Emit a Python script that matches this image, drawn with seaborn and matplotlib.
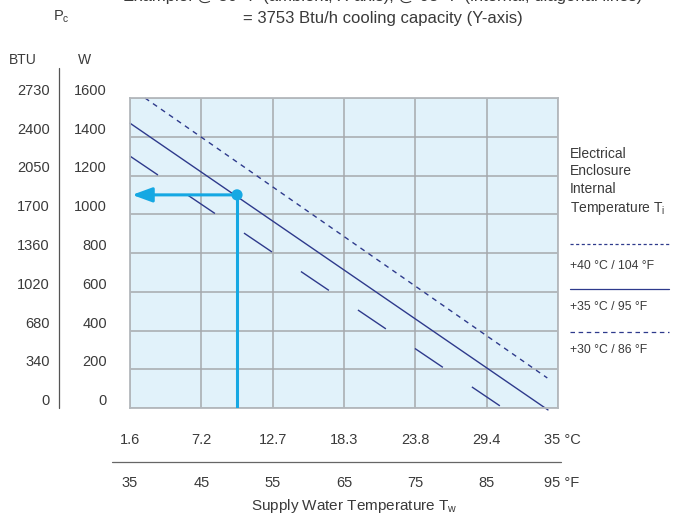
import matplotlib
matplotlib.use("Agg")
import matplotlib.pyplot as plt
import matplotlib.transforms as mtransforms
from matplotlib.lines import Line2D
import seaborn as sns

# supply water temperature (°F) / cooling power (W)
water_f_40 = [37.1, 93.5]
power_40 = [1600, 155]
water_f_35 = [35.0, 93.6]
power_35 = [1470, -10]
water_f_30 = [35.0, 86.9]
power_30 = [1300, 10]

example_f = 50
example_w = 1100

f_ticks = [35, 45, 55, 65, 75, 85, 95]
c_labels = ["1.6", "7.2", "12.7", "18.3", "23.8", "29.4", "35 °C"]
f_labels = ["35", "45", "55", "65", "75", "85", "95 °F"]
w_ticks = [0, 200, 400, 600, 800, 1000, 1200, 1400, 1600]
btu_labels = ["0", "340", "680", "1020", "1360", "1700", "2050", "2400", "2730"]

legend_labels = ["+40 °C / 104 °F", "+35 °C / 95 °F", "+30 °C / 86 °F"]

sns.set_theme(style="white")
plt.rcParams["font.family"] = ["Liberation Sans", "DejaVu Sans"]
plt.rcParams["mathtext.fontset"] = "custom"
plt.rcParams["mathtext.rm"] = "Liberation Sans"

navy = "#2e3a8c"
cyan = "#15a8e3"
grid_c = "#a5a9ad"
txt = "#3a3a3a"

W, H = 691, 517
fig = plt.figure(figsize=(W / 100, H / 100), dpi=100)


def fx(x):
    return x / W


def fy(y):
    return 1 - y / H


ax = fig.add_axes([fx(130), fy(408), (558 - 130) / W, (408 - 98) / H])
ax.set_facecolor("#e1f2fa")
ax.set_xlim(35, 95)
ax.set_ylim(0, 1600)
ax.set_xticks(f_ticks)
ax.set_yticks(w_ticks)
ax.set_xticklabels([])
ax.set_yticklabels([])
ax.tick_params(length=0)
ax.grid(True, color=grid_c, lw=1.1)
for s in ax.spines.values():
    s.set_color("#b3b8bc")
    s.set_linewidth(1.3)

sns.lineplot(x=water_f_40, y=power_40, ax=ax, color=navy, lw=1.0,
             linestyle=(0, (3.6, 3.4)), clip_on=False)
sns.lineplot(x=water_f_35, y=power_35, ax=ax, color=navy, lw=1.0, clip_on=False)
sns.lineplot(x=water_f_30, y=power_30, ax=ax, color=navy, lw=1.0,
             linestyle=(0, (24.3, 25.2)), clip_on=False)

# example reading
ax.plot([example_f, example_f], [example_w, 0], color=cyan, lw=2.2, zorder=4)
ax.annotate("", xy=(35.3, example_w), xytext=(example_f, example_w),
            arrowprops=dict(arrowstyle="-|>,head_length=0.6,head_width=0.22",
                            color=cyan, lw=2.2, mutation_scale=20,
                            shrinkA=0, shrinkB=0), zorder=4)
sns.scatterplot(x=[example_f], y=[example_w], ax=ax, color=cyan, s=65,
                edgecolor="none", zorder=5)

# left scales
up = mtransforms.ScaledTranslation(0, 7 / 100, fig.dpi_scale_trans)
tr = mtransforms.blended_transform_factory(fig.transFigure, ax.transData) + up
for w, b in zip(w_ticks, btu_labels):
    fig.text(fx(50), w, b, transform=tr, ha="right", va="center",
             fontsize=10.5, color=txt)
    fig.text(fx(107), w, str(w), transform=tr, ha="right", va="center",
             fontsize=10.5, color=txt)
fig.add_artist(Line2D([fx(59), fx(59)], [fy(68), fy(408)], color="#555555", lw=0.9))
fig.text(fx(23), fy(60), "BTU", ha="center", va="center", fontsize=10, color=txt)
fig.text(fx(85), fy(60), "W", ha="center", va="center", fontsize=10, color=txt)
fig.text(fx(53), fy(17), r"P$_\mathregular{c}$", ha="left", va="center",
         fontsize=10.5, color=txt)

# bottom scales
trx = mtransforms.blended_transform_factory(ax.transData, fig.transFigure)
last = trx + mtransforms.ScaledTranslation(-0.14, 0, fig.dpi_scale_trans)
for f, c, fl in zip(f_ticks, c_labels, f_labels):
    if f == f_ticks[-1]:
        fig.text(f, fy(440), c, transform=last, ha="left", va="center",
                 fontsize=10.5, color=txt)
        fig.text(f, fy(483), fl, transform=last, ha="left", va="center",
                 fontsize=10.5, color=txt)
        continue
    fig.text(f, fy(440), c, transform=trx, ha="center", va="center",
             fontsize=10.5, color=txt)
    fig.text(f, fy(483), fl, transform=trx, ha="center", va="center",
             fontsize=10.5, color=txt)
fig.add_artist(Line2D([fx(112), fx(561)], [fy(462), fy(462)], color="#666666", lw=0.9))
fig.text(fx(354), fy(506), r"Supply Water Temperature T$_\mathregular{w}$",
         ha="center", va="center", fontsize=11, color=txt)

# title (top line is cut off in the original)
fig.text(fx(383), fy(-3), "Example: @ 50 °F (ambient, X-axis), @ 95 °F (internal, diagonal lines)",
         ha="center", va="center", fontsize=12, color=txt)
fig.text(fx(383), fy(18), "= 3753 Btu/h cooling capacity (Y-axis)",
         ha="center", va="center", fontsize=12, color=txt)

# legend
fig.text(fx(570), fy(182), "Electrical\nEnclosure\nInternal\n" + r"Temperature T$_\mathregular{i}$",
         ha="left", va="center", fontsize=10, color=txt, linespacing=1.35)
styles = [(0, (2.5, 2.0)), "-", (0, (3.6, 2.9))]
for yl, yt, ls, lab in zip([244, 289, 332], [266, 307, 350], styles, legend_labels):
    fig.add_artist(Line2D([fx(570), fx(669)], [fy(yl), fy(yl)], color=navy,
                          lw=0.9, linestyle=ls))
    fig.text(fx(570), fy(yt), lab, ha="left", va="center", fontsize=8.8, color=txt)

fig.savefig("out.png", dpi=100)
